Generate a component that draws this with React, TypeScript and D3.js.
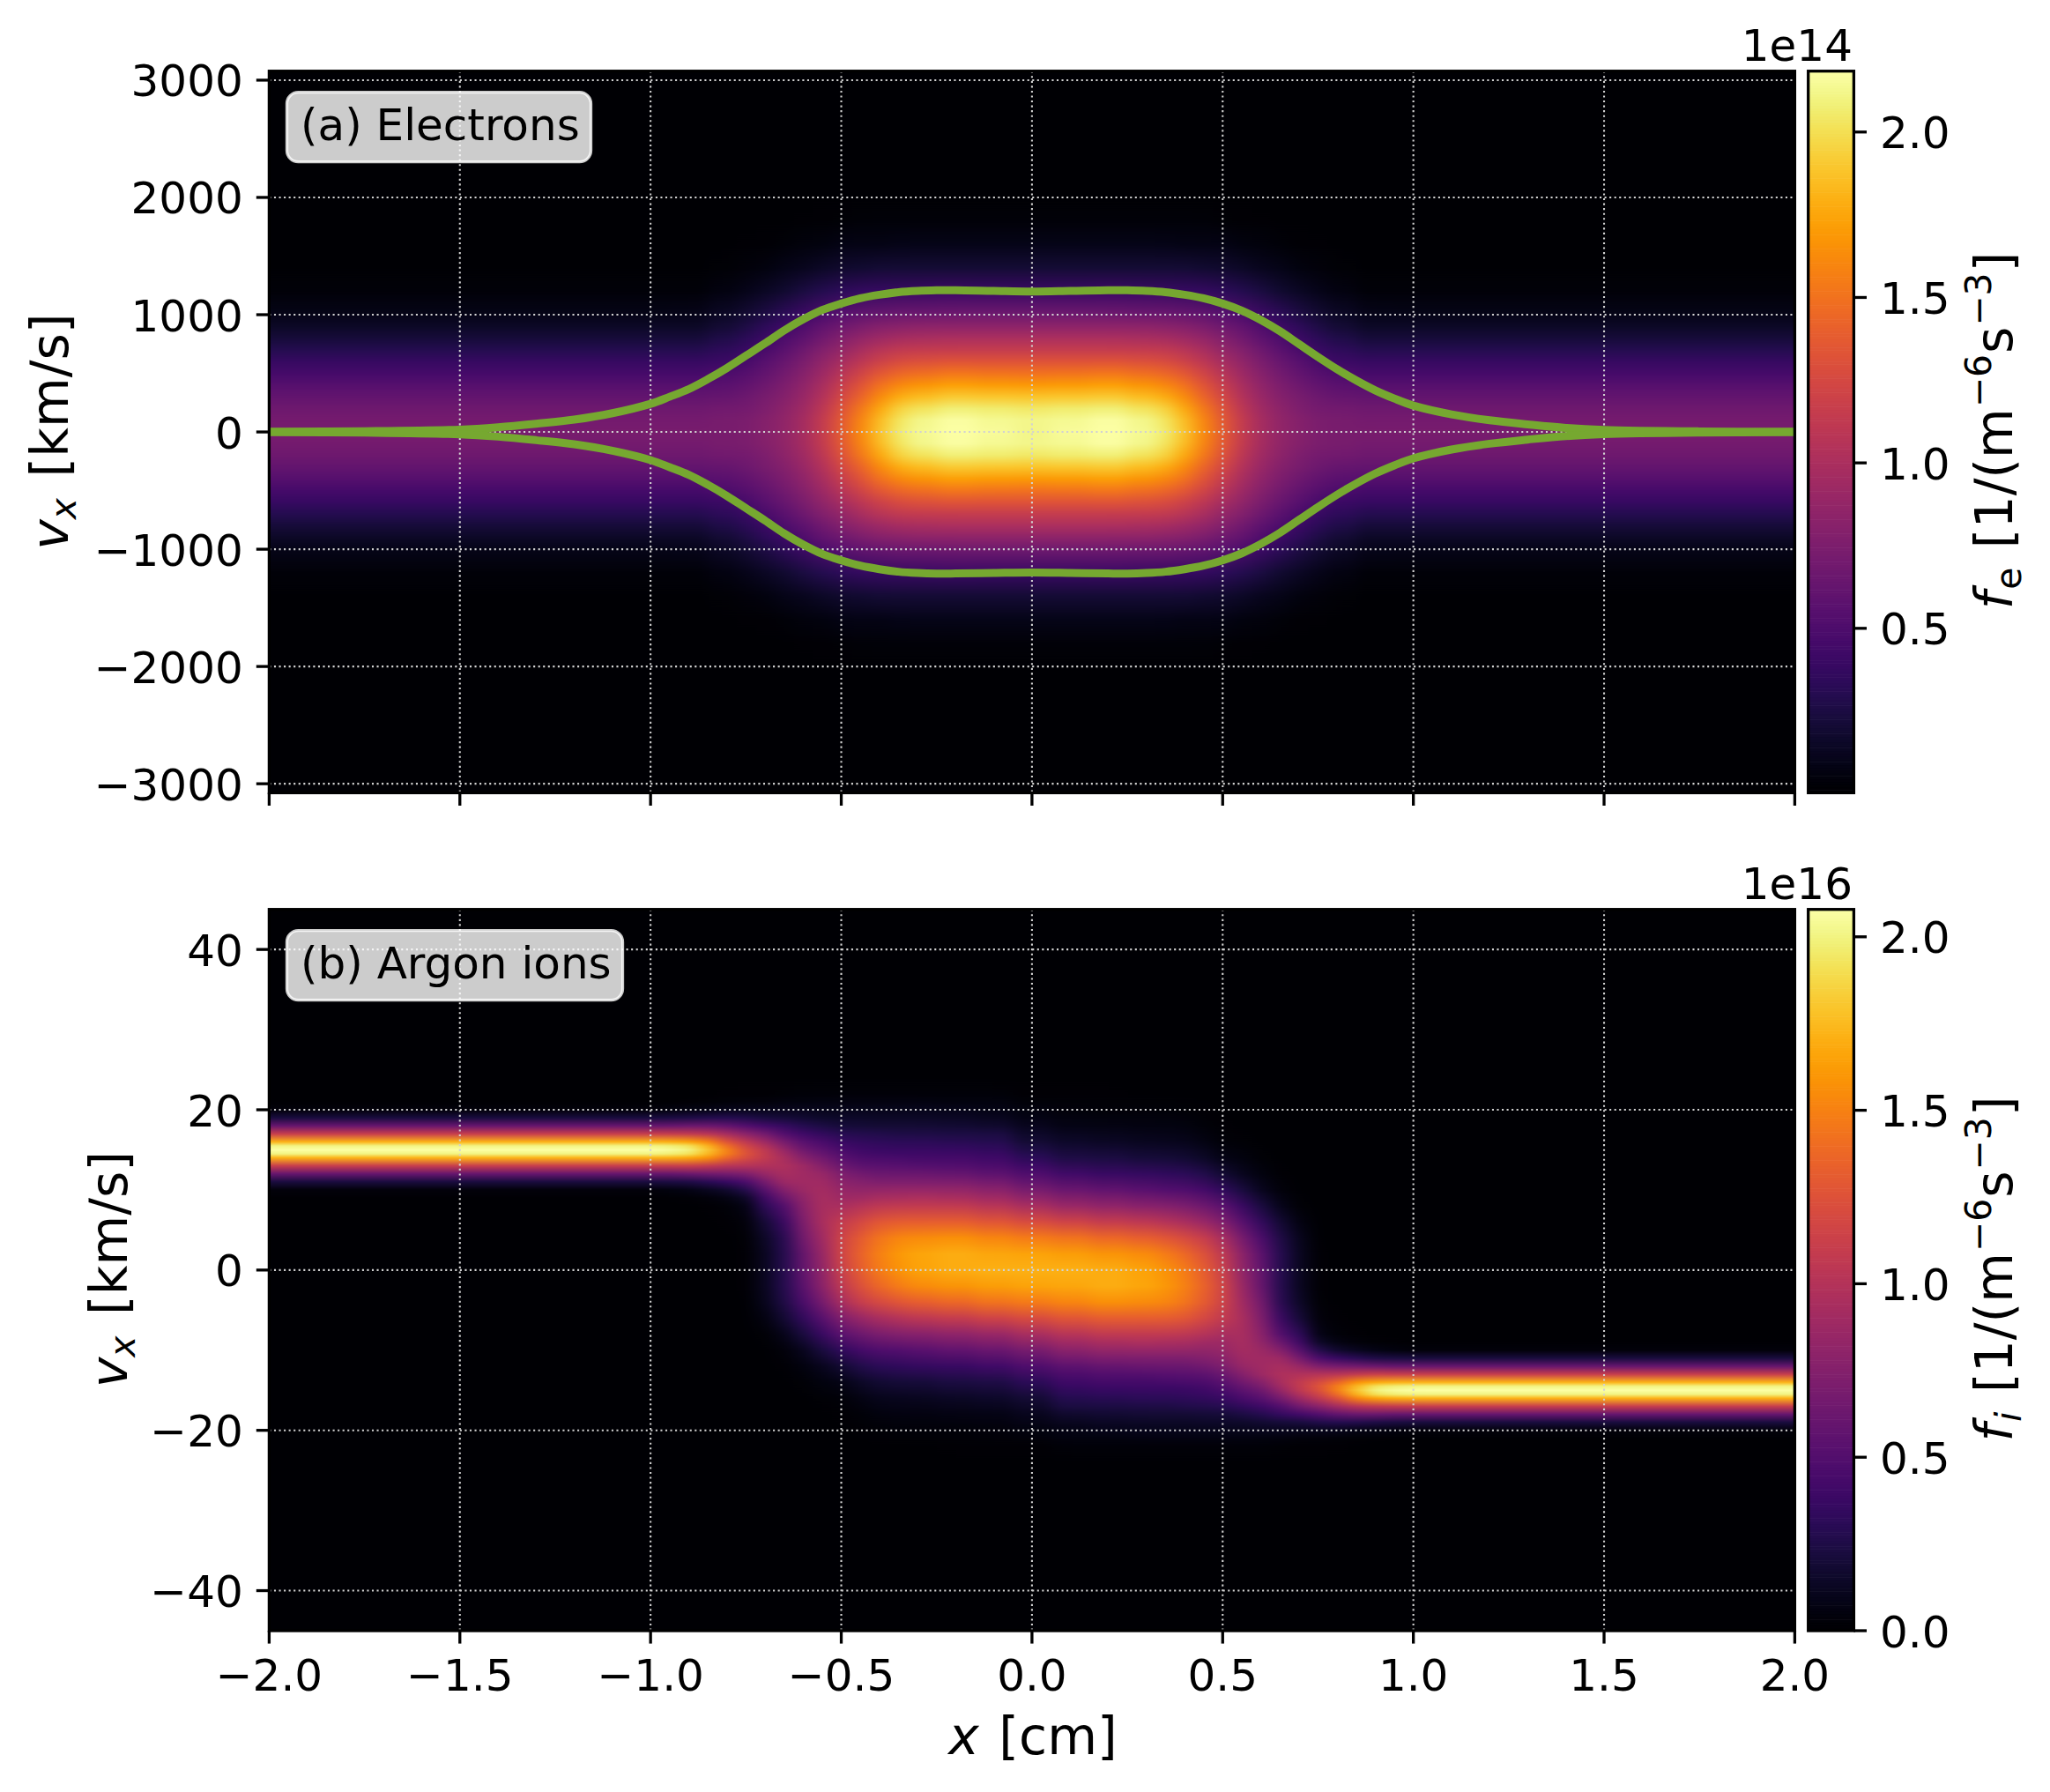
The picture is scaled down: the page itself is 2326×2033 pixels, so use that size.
import { useEffect, useRef } from "react";
import * as d3 from "d3";

// electrons: half of the map, mirrored in x and in v when drawn
const feX = [0, 0.1, 0.2, 0.3, 0.35, 0.4, 0.45, 0.5, 0.55, 0.6, 0.65, 0.7, 0.75, 0.8, 0.9, 1.0, 2.0];
const feV = [0, 100, 200, 300, 400, 500, 600, 700, 800, 900, 1000, 1200, 1400, 1600, 1800, 2000, 2300];
const feValues = [
  [2.12, 2.12, 2.04, 1.88, 1.69, 1.5, 1.32, 1.15, 1.0, 0.84, 0.68, 0.4, 0.2, 0.09, 0.035, 0.01, 0],
  [2.15, 2.14, 2.06, 1.89, 1.7, 1.51, 1.32, 1.15, 1.0, 0.84, 0.68, 0.4, 0.2, 0.09, 0.03, 0.01, 0],
  [2.18, 2.17, 2.08, 1.91, 1.72, 1.52, 1.33, 1.15, 1.0, 0.84, 0.68, 0.41, 0.2, 0.09, 0.03, 0.01, 0],
  [2.14, 2.12, 2.02, 1.85, 1.67, 1.48, 1.3, 1.14, 0.99, 0.83, 0.67, 0.4, 0.2, 0.09, 0.03, 0.01, 0],
  [2.06, 2.03, 1.94, 1.78, 1.61, 1.44, 1.27, 1.12, 0.97, 0.82, 0.66, 0.39, 0.2, 0.09, 0.03, 0.01, 0],
  [1.88, 1.85, 1.76, 1.63, 1.5, 1.35, 1.2, 1.07, 0.93, 0.79, 0.64, 0.38, 0.2, 0.08, 0.03, 0.01, 0],
  [1.63, 1.6, 1.53, 1.43, 1.33, 1.22, 1.1, 0.99, 0.87, 0.74, 0.61, 0.37, 0.19, 0.08, 0.03, 0.008, 0],
  [1.38, 1.36, 1.31, 1.24, 1.16, 1.07, 0.98, 0.88, 0.78, 0.67, 0.56, 0.34, 0.18, 0.08, 0.025, 0.008, 0],
  [1.15, 1.14, 1.1, 1.05, 0.99, 0.93, 0.86, 0.78, 0.69, 0.6, 0.5, 0.3, 0.15, 0.06, 0.02, 0.005, 0],
  [0.98, 0.97, 0.94, 0.9, 0.85, 0.8, 0.74, 0.67, 0.59, 0.51, 0.42, 0.25, 0.12, 0.05, 0.015, 0.004, 0],
  [0.87, 0.86, 0.83, 0.79, 0.75, 0.7, 0.64, 0.57, 0.5, 0.42, 0.34, 0.19, 0.09, 0.035, 0.01, 0, 0],
  [0.8, 0.79, 0.76, 0.72, 0.67, 0.61, 0.55, 0.48, 0.41, 0.34, 0.26, 0.14, 0.06, 0.02, 0.005, 0, 0],
  [0.75, 0.74, 0.71, 0.66, 0.6, 0.54, 0.47, 0.4, 0.33, 0.26, 0.2, 0.1, 0.04, 0.012, 0, 0, 0],
  [0.73, 0.72, 0.69, 0.63, 0.56, 0.49, 0.41, 0.34, 0.27, 0.2, 0.15, 0.07, 0.025, 0.006, 0, 0, 0],
  [0.72, 0.71, 0.67, 0.61, 0.54, 0.46, 0.38, 0.3, 0.22, 0.15, 0.1, 0.035, 0.01, 0, 0, 0, 0],
  [0.72, 0.71, 0.67, 0.61, 0.54, 0.46, 0.38, 0.3, 0.22, 0.15, 0.09, 0.03, 0.008, 0, 0, 0, 0],
  [0.72, 0.71, 0.67, 0.61, 0.54, 0.46, 0.38, 0.3, 0.22, 0.15, 0.09, 0.03, 0.008, 0, 0, 0, 0],
];

// argon ions: left half of the map, the right half is the point mirror
const fiX = [-2, -1, -0.95, -0.9, -0.85, -0.8, -0.75, -0.7, -0.65, -0.6, -0.55, -0.5, -0.45, -0.4, -0.35, -0.3, -0.2, -0.1, 0];
const fiV = [24, 22, 21, 20, 19, 18, 17, 16, 15.5, 15, 14.5, 14, 13, 12, 11, 10, 9, 8, 6, 4, 2, 0, -2, -4, -6, -8, -10, -12, -14, -16, -18, -20, -22, -24];
const fiValues = [
  [0, 0, 0, 0.04, 0.22, 0.6, 1.1, 1.72, 2, 2.08, 2, 1.72, 1.1, 0.6, 0.22, 0.04, 0, 0, 0, 0, 0, 0, 0, 0, 0, 0, 0, 0, 0, 0, 0, 0, 0, 0],
  [0, 0, 0, 0.04, 0.22, 0.6, 1.1, 1.72, 2, 2.08, 2, 1.72, 1.1, 0.6, 0.22, 0.04, 0, 0, 0, 0, 0, 0, 0, 0, 0, 0, 0, 0, 0, 0, 0, 0, 0, 0],
  [0, 0, 0.005, 0.05, 0.23, 0.6, 1.09, 1.7, 1.98, 2.05, 1.98, 1.71, 1.1, 0.6, 0.23, 0.05, 0.01, 0, 0, 0, 0, 0, 0, 0, 0, 0, 0, 0, 0, 0, 0, 0, 0, 0],
  [0, 0, 0.01, 0.07, 0.25, 0.62, 1.07, 1.65, 1.92, 2, 1.93, 1.68, 1.12, 0.62, 0.25, 0.08, 0.02, 0, 0, 0, 0, 0, 0, 0, 0, 0, 0, 0, 0, 0, 0, 0, 0, 0],
  [0, 0, 0.02, 0.08, 0.27, 0.62, 1.03, 1.52, 1.72, 1.8, 1.74, 1.58, 1.08, 0.65, 0.3, 0.12, 0.04, 0.01, 0, 0, 0, 0, 0, 0, 0, 0, 0, 0, 0, 0, 0, 0, 0, 0],
  [0, 0.01, 0.03, 0.1, 0.28, 0.58, 0.92, 1.25, 1.4, 1.5, 1.48, 1.36, 1.02, 0.68, 0.36, 0.17, 0.07, 0.03, 0.01, 0, 0, 0, 0, 0, 0, 0, 0, 0, 0, 0, 0, 0, 0, 0],
  [0, 0.01, 0.04, 0.1, 0.26, 0.5, 0.78, 1.05, 1.15, 1.22, 1.25, 1.2, 1, 0.72, 0.46, 0.27, 0.14, 0.08, 0.04, 0.02, 0.01, 0.01, 0.01, 0.005, 0, 0, 0, 0, 0, 0, 0, 0, 0, 0],
  [0, 0.01, 0.04, 0.1, 0.22, 0.42, 0.66, 0.88, 0.98, 1.05, 1.08, 1.08, 0.98, 0.85, 0.68, 0.52, 0.4, 0.32, 0.2, 0.14, 0.12, 0.12, 0.12, 0.1, 0.06, 0.02, 0.005, 0, 0, 0, 0, 0, 0, 0],
  [0.005, 0.02, 0.05, 0.11, 0.21, 0.35, 0.5, 0.68, 0.76, 0.84, 0.9, 0.94, 0.97, 0.94, 0.88, 0.75, 0.62, 0.5, 0.38, 0.3, 0.28, 0.28, 0.28, 0.25, 0.18, 0.09, 0.04, 0.01, 0, 0, 0, 0, 0, 0],
  [0.005, 0.03, 0.05, 0.11, 0.18, 0.28, 0.4, 0.52, 0.58, 0.64, 0.7, 0.76, 0.88, 0.9, 0.9, 0.87, 0.82, 0.78, 0.72, 0.66, 0.6, 0.58, 0.54, 0.46, 0.34, 0.22, 0.11, 0.05, 0.02, 0.005, 0, 0, 0, 0],
  [0.005, 0.03, 0.06, 0.1, 0.16, 0.24, 0.34, 0.45, 0.5, 0.55, 0.6, 0.65, 0.75, 0.85, 0.9, 0.92, 0.94, 0.95, 0.95, 0.9, 0.85, 0.82, 0.78, 0.68, 0.52, 0.37, 0.22, 0.11, 0.05, 0.02, 0.005, 0, 0, 0],
  [0.005, 0.03, 0.06, 0.1, 0.15, 0.21, 0.29, 0.37, 0.41, 0.45, 0.49, 0.53, 0.62, 0.72, 0.78, 0.84, 0.88, 0.94, 1.08, 1.14, 1.15, 1.12, 1.05, 0.93, 0.73, 0.54, 0.33, 0.18, 0.08, 0.03, 0.01, 0, 0, 0],
  [0.005, 0.03, 0.06, 0.1, 0.15, 0.2, 0.27, 0.34, 0.37, 0.4, 0.43, 0.47, 0.55, 0.65, 0.74, 0.82, 0.9, 1, 1.18, 1.3, 1.34, 1.31, 1.24, 1.1, 0.86, 0.63, 0.43, 0.26, 0.14, 0.07, 0.03, 0.01, 0, 0],
  [0.005, 0.03, 0.06, 0.1, 0.14, 0.19, 0.26, 0.32, 0.35, 0.38, 0.41, 0.45, 0.53, 0.62, 0.72, 0.83, 0.94, 1.05, 1.28, 1.44, 1.5, 1.47, 1.38, 1.2, 0.95, 0.7, 0.48, 0.31, 0.18, 0.1, 0.05, 0.02, 0.005, 0],
  [0.005, 0.03, 0.06, 0.1, 0.14, 0.19, 0.25, 0.31, 0.34, 0.37, 0.4, 0.44, 0.52, 0.62, 0.72, 0.84, 0.95, 1.07, 1.31, 1.52, 1.6, 1.58, 1.47, 1.27, 1, 0.74, 0.5, 0.33, 0.2, 0.11, 0.06, 0.025, 0.008, 0],
  [0.005, 0.03, 0.06, 0.1, 0.14, 0.19, 0.25, 0.31, 0.34, 0.37, 0.4, 0.43, 0.51, 0.61, 0.72, 0.84, 0.96, 1.08, 1.32, 1.55, 1.66, 1.65, 1.55, 1.33, 1.05, 0.77, 0.53, 0.35, 0.21, 0.12, 0.06, 0.025, 0.008, 0],
  [0.005, 0.03, 0.055, 0.09, 0.13, 0.18, 0.24, 0.3, 0.33, 0.36, 0.39, 0.43, 0.5, 0.6, 0.71, 0.83, 0.95, 1.07, 1.32, 1.57, 1.69, 1.69, 1.59, 1.38, 1.09, 0.81, 0.57, 0.37, 0.23, 0.13, 0.07, 0.03, 0.01, 0],
  [0.005, 0.025, 0.05, 0.08, 0.12, 0.17, 0.23, 0.28, 0.31, 0.34, 0.37, 0.4, 0.47, 0.56, 0.67, 0.78, 0.9, 1.02, 1.27, 1.52, 1.67, 1.71, 1.63, 1.43, 1.15, 0.86, 0.61, 0.41, 0.25, 0.15, 0.08, 0.035, 0.012, 0],
  [0.005, 0.015, 0.03, 0.05, 0.08, 0.11, 0.15, 0.19, 0.22, 0.25, 0.28, 0.31, 0.39, 0.48, 0.58, 0.69, 0.81, 0.94, 1.21, 1.47, 1.65, 1.71, 1.65, 1.47, 1.21, 0.94, 0.69, 0.48, 0.31, 0.19, 0.11, 0.05, 0.015, 0.005],
];

// green envelope of the electrons panel
const curveX = [-2, -1.75, -1.5, -1.4, -1.3, -1.2, -1.1, -1, -0.95, -0.9, -0.85, -0.8, -0.75, -0.7, -0.65, -0.6, -0.55, -0.5, -0.45, -0.4, -0.35, -0.3, -0.25, -0.2, -0.1, 0, 0.1, 0.2, 0.25, 0.3, 0.35, 0.4, 0.45, 0.5, 0.55, 0.6, 0.65, 0.7, 0.75, 0.8, 0.85, 0.9, 0.95, 1, 1.1, 1.2, 1.3, 1.4, 1.5, 1.75, 2];
const curveUpper = [2, 6, 20, 40, 70, 105, 160, 240, 300, 365, 450, 545, 650, 755, 865, 960, 1040, 1095, 1140, 1170, 1192, 1203, 1208, 1209, 1203, 1198, 1203, 1209, 1208, 1203, 1192, 1170, 1140, 1095, 1035, 955, 860, 750, 640, 535, 440, 355, 285, 225, 150, 100, 65, 35, 18, 5, 2];
const curveLower = [-2, -6, -20, -40, -70, -105, -160, -240, -300, -365, -450, -545, -650, -755, -865, -960, -1040, -1095, -1140, -1170, -1192, -1203, -1208, -1207, -1202, -1198, -1202, -1207, -1208, -1203, -1192, -1170, -1140, -1095, -1035, -955, -860, -750, -640, -535, -440, -355, -285, -225, -150, -100, -65, -35, -18, -5, -2];

const xTicks = [-2, -1.5, -1, -0.5, 0, 0.5, 1, 1.5, 2];
const vTicksA = [-3000, -2000, -1000, 0, 1000, 2000, 3000];
const vTicksB = [-40, -20, 0, 20, 40];
const cbTicksA = [0.5, 1, 1.5, 2];
const cbTicksB = [0, 0.5, 1, 1.5, 2];

const FONT = "'DejaVu Sans', sans-serif";
const axL = 305.4;
const axR = 2036.4;
const cbL = 2051.7;
const cbR = 2103.4;
const TICK = 14.6;
const SPINE = 3.3;

type Column = { x0: number; x1: number; stops: { v: number; value: number }[] };

function edges(nodes: number[], lo: number, hi: number) {
  return nodes.map((n, i) => [i === 0 ? lo : (nodes[i - 1] + n) / 2, i === nodes.length - 1 ? hi : (n + nodes[i + 1]) / 2]);
}

function electronColumns(): Column[] {
  const e = edges(feX, 0, 2.5);
  const full = (row: number[]) => {
    const up = feV.map((v, i) => ({ v, value: row[i] }));
    const down = up.slice(1).map((d) => ({ v: -d.v, value: d.value }));
    return [...up.slice().reverse(), ...down];
  };
  const out: Column[] = [];
  feValues.forEach((row, i) => {
    const [a, b] = e[i];
    const stops = full(row);
    if (i === 0) out.push({ x0: -b, x1: b, stops });
    else {
      out.push({ x0: a, x1: b, stops });
      out.push({ x0: -b, x1: -a, stops });
    }
  });
  return out;
}

function ionColumns(): Column[] {
  const e = edges(fiX, -2.5, 0);
  const out: Column[] = [];
  fiValues.forEach((row, i) => {
    const [a, b] = e[i];
    const stops = fiV.map((v, k) => ({ v, value: row[k] }));
    const mirrored = stops.map((d) => ({ v: -d.v, value: d.value })).reverse();
    if (i === fiValues.length - 1) out.push({ x0: a, x1: -a, stops });
    else {
      out.push({ x0: a, x1: b, stops });
      out.push({ x0: -b, x1: -a, stops: mirrored });
    }
  });
  return out;
}

type PanelOpts = {
  id: string;
  top: number;
  bottom: number;
  vLim: number;
  vTicks: number[];
  cbDomain: [number, number];
  cbTicks: number[];
  columns: Column[];
  showXLabels: boolean;
  boxLabel: string;
  boxWidth: number;
  offset: string;
};

function drawPanel(svg: d3.Selection<SVGSVGElement, unknown, null, undefined>, o: PanelOpts) {
  const x = d3.scaleLinear().domain([-2, 2]).range([axL, axR]);
  const y = d3.scaleLinear().domain([-o.vLim, o.vLim]).range([o.bottom, o.top]);
  const color = d3.scaleSequential(d3.interpolateInferno).domain(o.cbDomain).clamp(true);

  const defs = svg.append("defs");
  defs.append("clipPath").attr("id", `clip-${o.id}`).append("rect")
    .attr("x", axL).attr("y", o.top).attr("width", axR - axL).attr("height", o.bottom - o.top);
  const blur = defs.append("filter").attr("id", `blur-${o.id}`)
    .attr("filterUnits", "userSpaceOnUse")
    .attr("x", 0).attr("y", o.top - 20).attr("width", 2326).attr("height", o.bottom - o.top + 40)
    .attr("color-interpolation-filters", "sRGB");
  blur.append("feGaussianBlur").attr("stdDeviation", "9 0");

  o.columns.forEach((c, i) => {
    const g = defs.append("linearGradient").attr("id", `grad-${o.id}-${i}`)
      .attr("gradientUnits", "userSpaceOnUse")
      .attr("x1", 0).attr("x2", 0).attr("y1", o.top).attr("y2", o.bottom);
    c.stops.forEach((s) => {
      g.append("stop")
        .attr("offset", (y(s.v) - o.top) / (o.bottom - o.top))
        .attr("stop-color", color(s.value));
    });
  });

  const plot = svg.append("g").attr("clip-path", `url(#clip-${o.id})`);
  plot.append("rect").attr("x", axL).attr("y", o.top).attr("width", axR - axL).attr("height", o.bottom - o.top)
    .attr("fill", color(o.cbDomain[0]));
  plot.append("g").attr("filter", `url(#blur-${o.id})`)
    .selectAll("rect").data(o.columns).join("rect")
    .attr("x", (d) => x(d.x0))
    .attr("width", (d) => x(d.x1) - x(d.x0) + 1)
    .attr("y", o.top).attr("height", o.bottom - o.top)
    .attr("fill", (_, i) => `url(#grad-${o.id}-${i})`);

  // dotted grid
  const grid = plot.append("g").attr("stroke", "#d2d2d2").attr("stroke-width", 2.1).attr("stroke-dasharray", "2.1 3.45");
  grid.selectAll("line.v").data(xTicks.slice(1, -1)).join("line").attr("class", "v")
    .attr("x1", (d) => x(d)).attr("x2", (d) => x(d)).attr("y1", o.top).attr("y2", o.bottom);
  grid.selectAll("line.h").data(o.vTicks).join("line").attr("class", "h")
    .attr("x1", axL).attr("x2", axR).attr("y1", (d) => y(d)).attr("y2", (d) => y(d));

  if (o.id === "a") {
    const line = d3.line<number>().x((_, i) => x(curveX[i])).y((d) => y(d)).curve(d3.curveCatmullRom);
    [curveUpper, curveLower].forEach((vals) => {
      plot.append("path").datum(vals).attr("fill", "none").attr("stroke", "#76a830")
        .attr("stroke-width", 9).attr("d", line);
    });
  }

  // label box
  const boxY = o.top + 24;
  svg.append("rect").attr("x", 325.5).attr("y", boxY).attr("width", o.boxWidth).attr("height", 79)
    .attr("rx", 13).attr("fill", "#fff").attr("fill-opacity", 0.8).attr("stroke", "#fff").attr("stroke-opacity", 0.8).attr("stroke-width", 3.3);
  svg.append("text").attr("x", 341).attr("y", o.top + 78.4).attr("font-size", 50).attr("font-family", FONT).text(o.boxLabel);

  svg.append("rect").attr("x", axL).attr("y", o.top).attr("width", axR - axL).attr("height", o.bottom - o.top)
    .attr("fill", "none").attr("stroke", "#000").attr("stroke-width", SPINE);

  const styleAxis = (g: d3.Selection<SVGGElement, unknown, null, undefined>) => {
    g.select(".domain").remove();
    g.selectAll("line").attr("stroke", "#000").attr("stroke-width", SPINE);
    g.selectAll("text").attr("font-size", 50).attr("font-family", FONT).attr("fill", "#000");
  };

  const left = svg.append("g").attr("transform", `translate(${axL},0)`)
    .call(d3.axisLeft(y).tickValues(o.vTicks).tickSize(TICK).tickPadding(15).offset(0).tickFormat(d3.format("d") as any));
  styleAxis(left);
  left.selectAll("text").attr("dy", 18.5);

  const bottom = svg.append("g").attr("transform", `translate(0,${o.bottom})`)
    .call(d3.axisBottom(x).tickValues(xTicks).tickSize(TICK).offset(0)
      .tickFormat((o.showXLabels ? d3.format(".1f") : () => "") as any));
  styleAxis(bottom);
  bottom.selectAll("text").attr("y", 67.5).attr("dy", 0);

  // colorbar
  const cbY = d3.scaleLinear().domain(o.cbDomain).range([o.bottom, o.top]);
  const levels = d3.range(256).map((i) => o.cbDomain[0] + ((o.cbDomain[1] - o.cbDomain[0]) * i) / 255);
  const h = (o.bottom - o.top) / 256;
  svg.append("g").selectAll("rect").data(levels).join("rect")
    .attr("x", cbL).attr("width", cbR - cbL)
    .attr("y", (_, i) => o.bottom - (i + 1) * h).attr("height", h + 0.6)
    .attr("fill", (d) => color(d));
  svg.append("rect").attr("x", cbL).attr("y", o.top).attr("width", cbR - cbL).attr("height", o.bottom - o.top)
    .attr("fill", "none").attr("stroke", "#000").attr("stroke-width", SPINE);
  const cb = svg.append("g").attr("transform", `translate(${cbR},0)`)
    .call(d3.axisRight(cbY).tickValues(o.cbTicks).tickSize(TICK).tickPadding(15).offset(0).tickFormat(d3.format(".1f") as any));
  styleAxis(cb);
  cb.selectAll("text").attr("dy", 18.5);

  svg.append("text").attr("x", 2102).attr("y", o.top - 12).attr("text-anchor", "end")
    .attr("font-size", 50).attr("font-family", FONT).text(o.offset);
}

// rotated label with italic and script parts
function rotatedLabel(
  svg: d3.Selection<SVGSVGElement, unknown, null, undefined>,
  px: number,
  py: number,
  parts: { t: string; italic?: boolean; shift?: number; gap?: number }[],
) {
  const text = svg.append("text")
    .attr("transform", `translate(${px},${py}) rotate(-90)`)
    .attr("text-anchor", "middle").attr("font-size", 58.3).attr("font-family", FONT);
  let cur = 0;
  parts.forEach((p) => {
    const shift = p.shift ?? 0;
    text.append("tspan")
      .attr("dx", p.gap ?? 0)
      .attr("dy", shift - cur)
      .attr("font-size", shift !== 0 ? 40.8 : 58.3)
      .attr("font-style", p.italic ? "italic" : "normal")
      .text(p.t);
    cur = shift;
  });
}

export default function App() {
  const ref = useRef<SVGSVGElement>(null);

  useEffect(() => {
    if (!ref.current) return;
    const svg = d3.select(ref.current);
    svg.selectAll("*").remove();

    drawPanel(svg, {
      id: "a", top: 80.7, bottom: 899.4, vLim: 3077, vTicks: vTicksA,
      cbDomain: [0.003, 2.184], cbTicks: cbTicksA, columns: electronColumns(),
      showXLabels: false, boxLabel: "(a) Electrons", boxWidth: 345, offset: "1e14",
    });
    drawPanel(svg, {
      id: "b", top: 1031.7, bottom: 1850, vLim: 45, vTicks: vTicksB,
      cbDomain: [0, 2.079], cbTicks: cbTicksB, columns: ionColumns(),
      showXLabels: true, boxLabel: "(b) Argon ions", boxWidth: 381, offset: "1e16",
    });

    const vLabel = [
      { t: "v", italic: true },
      { t: "x", italic: true, shift: 8.7 },
      { t: " [km/s]", gap: 5 },
    ];
    rotatedLabel(svg, 77, 489.5, vLabel);
    rotatedLabel(svg, 144, 1440, vLabel);

    const fLabel = (sub: string, italic: boolean) => [
      { t: "f", italic: true, gap: 0 },
      { t: sub, italic, shift: 10, gap: 2 },
      { t: " [1/(m", gap: 3 },
      { t: "−6", shift: -24, gap: 1 },
      { t: "s", gap: 1 },
      { t: "−3", shift: -24, gap: 1 },
      { t: "]", gap: 1 },
    ];
    rotatedLabel(svg, 2282.7, 488.5, fLabel("e", false));
    rotatedLabel(svg, 2282.7, 1439.5, fLabel("i", true));

    const xLabel = svg.append("text").attr("x", 1172).attr("y", 1990)
      .attr("text-anchor", "middle").attr("font-size", 58.3).attr("font-family", FONT);
    xLabel.append("tspan").attr("font-style", "italic").text("x");
    xLabel.append("tspan").attr("dx", 4).text(" [cm]");
  }, []);

  return (
    <svg
      ref={ref}
      width={2326}
      height={2033}
      style={{ position: "absolute", left: 0, top: 0, background: "#fff" }}
    />
  );
}
